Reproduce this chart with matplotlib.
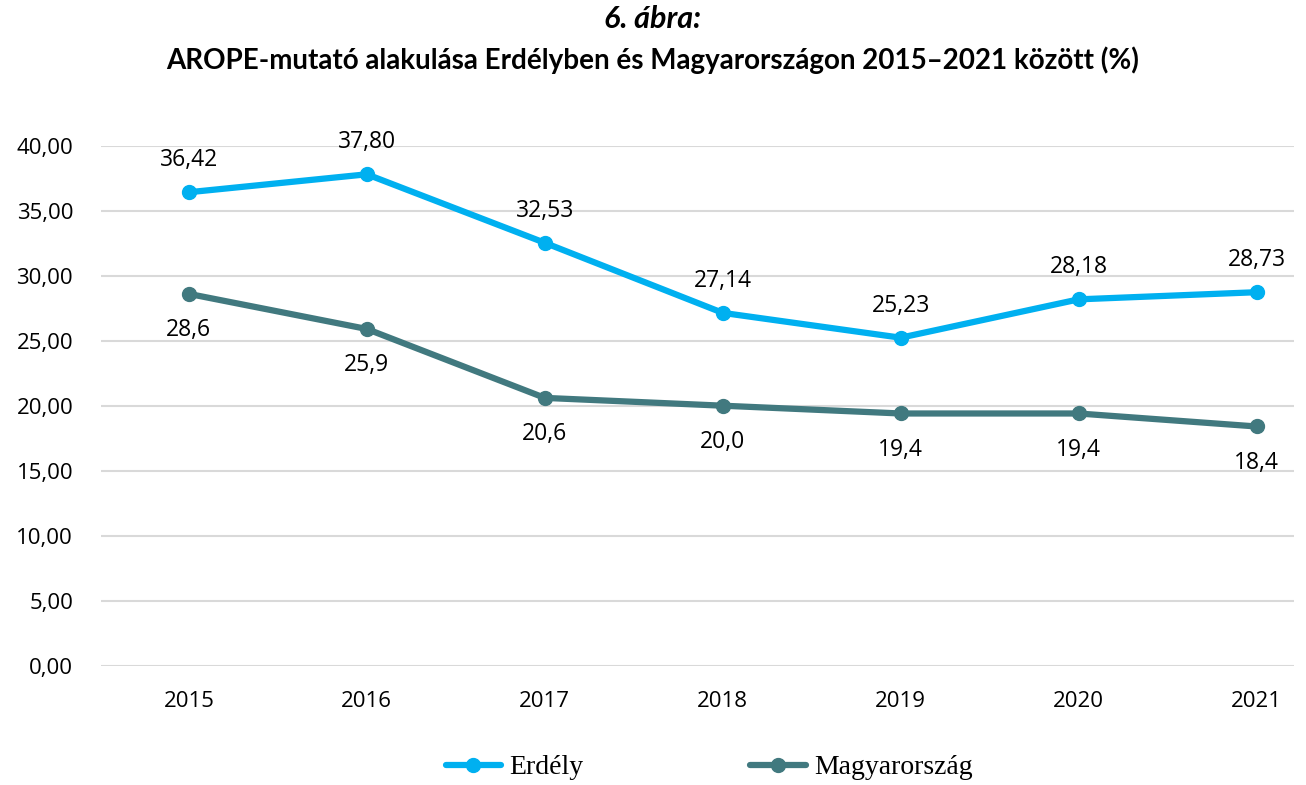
import matplotlib.pyplot as plt

# data
years = ['2015', '2016', '2017', '2018', '2019', '2020', '2021']
erdely = [36.42, 37.80, 32.53, 27.14, 25.23, 28.18, 28.73]
magyar = [28.6, 25.9, 20.6, 20.0, 19.4, 19.4, 18.4]
yticks = [0, 5, 10, 15, 20, 25, 30, 35, 40]

c_erdely = '#00B0F0'
c_magyar = '#41797F'
label_font = 'Open Sans'

fig = plt.figure(figsize=(13.06, 7.85), dpi=100)
ax = fig.add_axes([0.0773, 0.152, 0.9135, 0.6624])

x = list(range(len(years)))
ax.plot(x, erdely, color=c_erdely, lw=4.5, marker='o', ms=10,
        solid_capstyle='round', label='Erdély', clip_on=False, zorder=3)
ax.plot(x, magyar, color=c_magyar, lw=4.5, marker='o', ms=10,
        solid_capstyle='round', label='Magyarország', clip_on=False, zorder=3)

# data labels
for xi, v in zip(x, erdely):
    ax.annotate(f'{v:.2f}'.replace('.', ','), (xi, v), xytext=(0, 23),
                textcoords='offset points', ha='center', va='center',
                fontsize=16.5, family=label_font)
for xi, v in zip(x, magyar):
    ax.annotate(f'{v:.1f}'.replace('.', ','), (xi, v), xytext=(0, -26),
                textcoords='offset points', ha='center', va='center',
                fontsize=16.5, family=label_font)

ax.set_xlim(-0.494, 6.21)
ax.set_ylim(0, 40)
ax.set_xticks(x)
ax.set_xticklabels(years, family=label_font, fontsize=16)
ax.set_yticks(yticks)
ax.set_yticklabels([f'{t:.2f}'.replace('.', ',') for t in yticks],
                   family=label_font, fontsize=16)
ax.tick_params(length=0)
ax.tick_params(axis='y', pad=20)
ax.tick_params(axis='x', pad=18)
ax.grid(axis='y', color='#D9D9D9', lw=1.5)
ax.set_axisbelow(True)
for s in ax.spines.values():
    s.set_visible(False)

# title
fig.text(0.5, 0.976, '6. ábra:', ha='center', va='center', fontsize=22,
         family='Lato', weight='bold', style='italic')
fig.text(0.5, 0.923, 'AROPE-mutató alakulása Erdélyben és Magyarországon 2015–2021 között (%)',
         ha='center', va='center', fontsize=20, family='Lato', weight='bold')

# legend
leg = fig.legend(loc='center', bbox_to_anchor=(0.543, 0.022), ncol=2,
                 frameon=False, prop={'family': 'Liberation Serif', 'size': 20},
                 handlelength=2.0, handletextpad=0.3, columnspacing=6.0)

fig.savefig('out.png', dpi=100)
